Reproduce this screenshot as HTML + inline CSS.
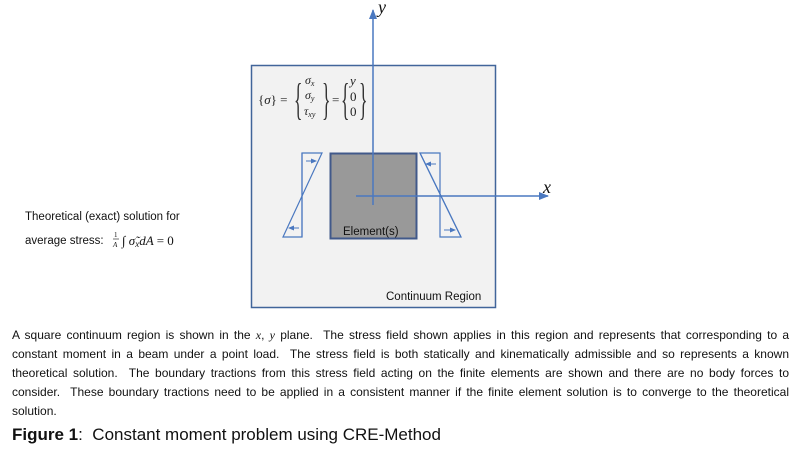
<!DOCTYPE html>
<html><head><meta charset="utf-8"><style>
body{margin:0;width:800px;height:452px;background:#fff;position:relative;overflow:hidden;font-family:"Liberation Sans",sans-serif;color:#111}
.l{position:absolute;left:12px;width:777px;font-size:12px;white-space:nowrap}
.j{text-align:justify;text-align-last:justify;white-space:normal}
.m{font-family:"Liberation Serif",serif;font-style:italic}
</style></head><body>
<svg width="800" height="320" style="position:absolute;left:0;top:0" font-family="Liberation Serif">
<defs><marker id="a" markerWidth="10" markerHeight="10" refX="9" refY="5" orient="auto" markerUnits="userSpaceOnUse"><path d="M0,1 L10,5 L0,9 Z" fill="#4a78c0"/></marker>
<marker id="s" markerWidth="6" markerHeight="6" refX="5" refY="3" orient="auto" markerUnits="userSpaceOnUse"><path d="M0,0.5 L6,3 L0,5.5 Z" fill="#4a78c0"/></marker></defs>
<rect x="251.5" y="65.5" width="244" height="242" fill="#f2f2f2" stroke="#41659a" stroke-width="1.5"/>
<rect x="330.5" y="153.5" width="86" height="85" fill="#999" stroke="#41598a" stroke-width="2"/>
<text x="343" y="235" font-family="Liberation Sans" font-size="11.5" fill="#111">Element(s)</text>
<polygon points="302,153 322,153 283,237 302,237" fill="none" stroke="#4a78c0" stroke-width="1.2"/>
<line x1="302" y1="153" x2="302" y2="237" stroke="#4a78c0" stroke-width="1.2"/>
<polygon points="420,153 440,153 440,237 461,237" fill="none" stroke="#4a78c0" stroke-width="1.2"/>
<line x1="420" y1="153" x2="461" y2="237" stroke="#4a78c0" stroke-width="1.2"/>
<line x1="306" y1="161" x2="316" y2="161" stroke="#4a78c0" marker-end="url(#s)"/>
<line x1="299" y1="228" x2="289" y2="228" stroke="#4a78c0" marker-end="url(#s)"/>
<line x1="436" y1="164" x2="426" y2="164" stroke="#4a78c0" marker-end="url(#s)"/>
<line x1="444" y1="230" x2="455" y2="230" stroke="#4a78c0" marker-end="url(#s)"/>
<line x1="373" y1="205" x2="373" y2="10" stroke="#4a78c0" stroke-width="1.5" marker-end="url(#a)"/>
<line x1="356" y1="196" x2="548" y2="196" stroke="#4a78c0" stroke-width="1.5" marker-end="url(#a)"/>
<text x="378" y="13" font-size="18" font-style="italic" fill="#111">y</text>
<text x="543" y="193" font-size="18" font-style="italic" fill="#111">x</text>
<text x="258" y="104" font-size="13" fill="#222">{<tspan font-style="italic">σ</tspan>} =</text>
<text x="294" y="114" font-size="44" fill="#333" transform="translate(294,0) scale(0.4,1) translate(-294,0)">{</text>
<text x="305" y="84" font-size="12" font-style="italic" fill="#222">σ<tspan font-size="8" dy="2">x</tspan></text>
<text x="305" y="99" font-size="12" font-style="italic" fill="#222">σ<tspan font-size="8" dy="2">y</tspan></text>
<text x="304" y="115" font-size="12" font-style="italic" fill="#222">τ<tspan font-size="8" dy="2">xy</tspan></text>
<text x="322" y="114" font-size="44" fill="#333" transform="translate(322,0) scale(0.4,1) translate(-322,0)">}</text>
<text x="332" y="104" font-size="13" fill="#222">=</text>
<text x="341" y="114" font-size="44" fill="#333" transform="translate(341,0) scale(0.4,1) translate(-341,0)">{</text>
<text x="350" y="85" font-size="13" font-style="italic" fill="#222">y</text>
<text x="350" y="101" font-size="13" fill="#222">0</text>
<text x="350" y="116" font-size="13" fill="#222">0</text>
<text x="359" y="114" font-size="44" fill="#333" transform="translate(359,0) scale(0.4,1) translate(-359,0)">}</text>
<text x="386" y="300" font-family="Liberation Sans" font-size="11.5" fill="#111">Continuum Region</text>
<text x="25" y="220" font-family="Liberation Sans" font-size="11.5" fill="#111">Theoretical (exact) solution for</text>
<text x="25" y="244" font-family="Liberation Sans" font-size="11.5" fill="#111">average stress:</text>
<text x="114" y="237" font-size="7" fill="#111">1</text>
<line x1="113" y1="239" x2="119" y2="239" stroke="#111" stroke-width="0.6"/>
<text x="113" y="247" font-size="7" font-style="italic" fill="#111">A</text>
<text x="122" y="245" font-size="13" font-style="italic" fill="#111">∫ σ̃<tspan font-size="9" dy="2">x</tspan><tspan dy="-2">dA</tspan> <tspan font-style="normal">= 0</tspan></text>
</svg>
<div class="l j" style="top:328px">A square continuum region is shown in the <span class="m">x</span>, <span class="m">y</span> plane.&nbsp; The stress field shown applies in this region and represents that corresponding to a</div>
<div class="l j" style="top:347px">constant moment in a beam under a point load.&nbsp; The stress field is both statically and kinematically admissible and so represents a known</div>
<div class="l j" style="top:366px">theoretical solution.&nbsp; The boundary tractions from this stress field acting on the finite elements are shown and there are no body forces to</div>
<div class="l j" style="top:385px">consider.&nbsp; These boundary tractions need to be applied in a consistent manner if the finite element solution is to converge to the theoretical</div>
<div class="l" style="top:404px">solution.</div>
<div class="l" style="top:425px;font-size:17px"><b>Figure 1</b>:&nbsp; Constant moment problem using CRE-Method</div>
</body></html>
